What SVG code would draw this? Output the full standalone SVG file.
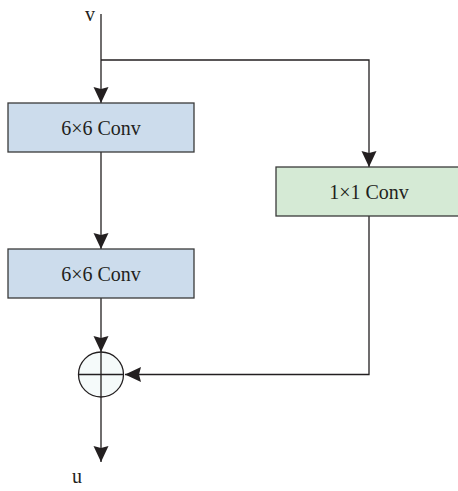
<svg xmlns="http://www.w3.org/2000/svg" width="458" height="491" viewBox="0 0 458 491">
<style>
.box{stroke:#3a3a3a;stroke-width:1.3}
.blue{fill:#ccdcec}
.green{fill:#d5ead5}
.ln{stroke:#231f20;stroke-width:1.3;fill:none}
text{font-family:"Liberation Serif","Times New Roman",serif;font-size:20px;fill:#231f20}
.c{text-anchor:middle}
</style>
<defs>
<marker id="ah" markerWidth="16" markerHeight="16" viewBox="0 0 16 16" refX="16" refY="8" orient="auto" markerUnits="userSpaceOnUse">
<path d="M0,0.5 L16,8 L0,15.5 L2,8 Z" fill="#231f20"/>
</marker>
</defs>
<g id="connectors">
<path class="ln" d="M101,14 V103" marker-end="url(#ah)"/>
<path class="ln" d="M101,60 H369 V167" marker-end="url(#ah)"/>
<path class="ln" d="M101,152 V249" marker-end="url(#ah)"/>
<path class="ln" d="M101,298 V352" marker-end="url(#ah)"/>
<path class="ln" d="M369,216 V374.5 H125" marker-end="url(#ah)"/>
<path class="ln" d="M101,397 V462" marker-end="url(#ah)"/>
</g>
<g id="v"><text x="90" y="21" class="c">v</text></g>
<g id="conv1">
<rect class="box blue" x="8" y="103" width="186" height="49"/>
<text x="101" y="135" class="c">6×6 Conv</text>
</g>
<g id="conv2">
<rect class="box blue" x="8" y="249" width="186" height="49"/>
<text x="101" y="281" class="c">6×6 Conv</text>
</g>
<g id="conv3">
<rect class="box green" x="276" y="167" width="186" height="49"/>
<text x="369" y="199" class="c">1×1 Conv</text>
</g>
<g id="sum">
<circle cx="101" cy="374.5" r="22.5" fill="#f5fafa" stroke="#231f20" stroke-width="1.3"/>
<line x1="78.5" y1="374.5" x2="123.5" y2="374.5" stroke="#231f20" stroke-width="1.3"/>
<line x1="101" y1="352" x2="101" y2="397" stroke="#231f20" stroke-width="1.3"/>
</g>
<g id="u"><text x="77" y="483" class="c">u</text></g>
</svg>
